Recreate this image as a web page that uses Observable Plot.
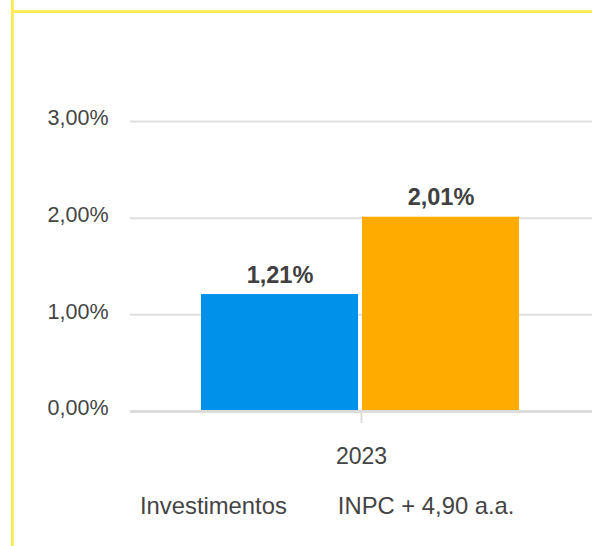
<!DOCTYPE html>
<html>
<head>
<meta charset="utf-8">
<script src="https://cdn.jsdelivr.net/npm/d3@7"></script>
<script src="https://cdn.jsdelivr.net/npm/@observablehq/plot@0.6"></script>
<style>
  html, body { margin: 0; padding: 0; background: #fff; }
  #wrap { position: relative; width: 592px; height: 546px; overflow: hidden; font-family: "Liberation Sans", Arial, sans-serif; }
  #wrap svg { display: block; }
  .bl { position: absolute; left: 11px; top: 0; width: 3px; height: 546px; background: #ffeb55; }
  .bt { position: absolute; left: 11px; top: 10px; width: 581px; height: 3px; background: #ffeb55; }
  #legend { display: flex; gap: 51px; padding-left: 140px; margin-top: 14px; font-size: 23.8px; line-height: 1; color: #444; }
</style>
</head>
<body>
<div id="wrap">
  <div class="bl"></div>
  <div class="bt"></div>
  <div id="chart"></div>
  <div id="legend"></div>
</div>
<script>
const years = ["2023"];
const series = ["Investimentos", "INPC + 4,90 a.a."];
const values = [1.21, 2.01];
const colors = ["#0091ea", "#ffab00"];
const yTicks = [0, 1, 2, 3];

const fmt = v => v.toFixed(2).replace(".", ",") + "%";
const data = series.map((s, i) => ({year: years[0], series: s, value: values[i]}));

const plot = Plot.plot({
  width: 592,
  height: 480,
  marginTop: 121,
  marginBottom: 69,
  marginLeft: 130,
  marginRight: 0,
  style: {fontFamily: '"Liberation Sans", Arial, sans-serif', background: "transparent"},
  fx: {domain: years, padding: 0, label: null},
  x: {domain: series, paddingInner: 0.027, paddingOuter: 0.441, align: 0.49, axis: null},
  y: {domain: [0, 3], axis: null},
  color: {domain: series, range: colors},
  marks: [
    Plot.ruleY(yTicks.filter(d => d > 0), {stroke: "#e0e0e0", strokeWidth: 2}),
    Plot.barY(data, {fx: "year", x: "series", y: "value", fill: "series"}),
    Plot.ruleY([0], {stroke: "#dcdcdc", strokeWidth: 3}),
    Plot.text(data, {fx: "year", x: "series", y: "value", text: d => fmt(d.value), lineAnchor: "bottom", dy: -12, fontSize: 23.5, fontWeight: "bold", fill: "#404040"}),
    Plot.axisY({ticks: yTicks, tickFormat: fmt, tickSize: 0, tickPadding: 22, fontSize: 21.5, color: "#444", dy: -3, label: null}),
    Plot.axisFx({anchor: "bottom", tickSize: 12, tickPadding: 24, fontSize: 23, color: "#444", stroke: "#dcdcdc", strokeWidth: 2, label: null})
  ]
});
document.getElementById("chart").appendChild(plot);

const legend = document.getElementById("legend");
series.forEach(s => {
  const span = document.createElement("span");
  span.textContent = s;
  legend.appendChild(span);
});
</script>
</body>
</html>
